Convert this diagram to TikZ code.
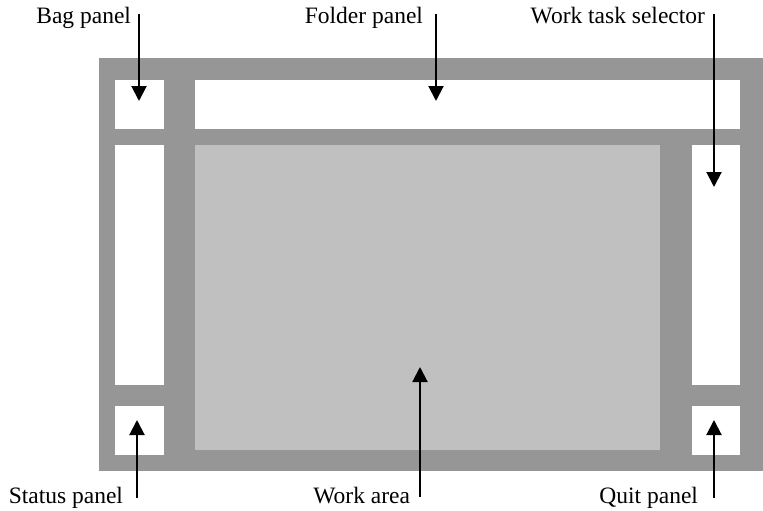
\documentclass[tikz,border=0pt]{standalone}
\usepackage{fontspec}
\setmainfont{Liberation Serif}
\usetikzlibrary{arrows.meta}
\definecolor{frame}{RGB}{150,150,150}
\definecolor{work}{RGB}{192,192,192}
\begin{document}
\begin{tikzpicture}[x=1pt,y=-1pt,
  panel/.style={fill=white,draw=none,inner sep=0pt,outer sep=0pt},
  lbl/.style={inner sep=0pt,outer sep=0pt,font=\fontsize{23.5}{28}\selectfont},
  pointer/.style={line width=2pt,-{Triangle[length=15pt,width=15pt]}}]
\useasboundingbox (0,0) rectangle (763,511);
\fill[frame] (99,58) rectangle (763,471);
% panels
\node[panel,minimum width=49pt,minimum height=49pt,anchor=north west] (bag) at (115,80) {};
\node[panel,minimum width=545pt,minimum height=49pt,anchor=north west] (folder) at (195,80) {};
\node[panel,minimum width=49pt,minimum height=240pt,anchor=north west] (left) at (115,145) {};
\node[panel,minimum width=49pt,minimum height=49pt,anchor=north west] (status) at (115,406) {};
\node[panel,fill=work,minimum width=465pt,minimum height=305pt,anchor=north west] (workarea) at (195,145) {};
\node[panel,minimum width=48pt,minimum height=240pt,anchor=north west] (selector) at (692,145) {};
\node[panel,minimum width=48pt,minimum height=49pt,anchor=north west] (quit) at (692,406) {};
% labels
\node[lbl,anchor=base east] (lbag) at (131,24) {Bag panel};
\node[lbl,anchor=base east] (lfolder) at (423,24) {Folder panel};
\node[lbl,anchor=base east] (lsel) at (705,24) {Work task selector};
\node[lbl,anchor=base east] (lstatus) at (123,503) {Status panel};
\node[lbl,anchor=base east] (lwork) at (410,503) {Work area};
\node[lbl,anchor=base east] (lquit) at (698,503) {Quit panel};
% arrow ends
\coordinate (sbag) at (139,14);   \coordinate (tbag) at (139,101);
\coordinate (sfolder) at (436,14); \coordinate (tfolder) at (436,101);
\coordinate (ssel) at (714,14);   \coordinate (tsel) at (714,187);
\coordinate (sstatus) at (137,498); \coordinate (tstatus) at (137,420);
\coordinate (swork) at (420,497); \coordinate (twork) at (420,367);
\coordinate (squit) at (714,498); \coordinate (tquit) at (714,420);
\draw[pointer] (sbag) -- (tbag);
\draw[pointer] (sfolder) -- (tfolder);
\draw[pointer] (ssel) -- (tsel);
\draw[pointer] (sstatus) -- (tstatus);
\draw[pointer] (swork) -- (twork);
\draw[pointer] (squit) -- (tquit);
\end{tikzpicture}
\end{document}
